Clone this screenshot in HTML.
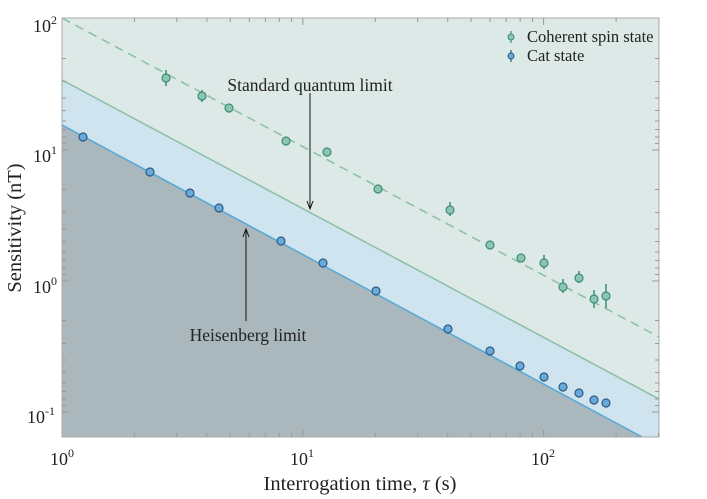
<!DOCTYPE html><html><head><style>body{margin:0;background:#fff}svg{display:block}text{font-family:"Liberation Serif",serif;fill:#222}</style></head><body>
<svg width="707" height="499" xmlns="http://www.w3.org/2000/svg">
<defs><clipPath id="c"><rect x="62" y="18" width="597" height="419"/></clipPath></defs>
<g clip-path="url(#c)">
<rect x="62" y="18" width="597" height="419" fill="#dde9e6"/>
<polygon points="62,80 659,399 659,437 62,437" fill="#cfe4ef"/>
<polygon points="62,125 642,437 62,437" fill="#aab7bd"/>
<line x1="62" y1="80" x2="659" y2="399" stroke="#8fc0a9" stroke-width="1.6"/>
<line x1="62" y1="125" x2="642" y2="437" stroke="#5aaad6" stroke-width="1.6"/>
<line x1="62" y1="18" x2="659" y2="337" stroke="#8fc0a9" stroke-width="1.6" stroke-dasharray="9,6"/>
</g>
<rect x="62" y="18" width="597" height="419" fill="none" stroke="#aaa" stroke-width="1"/>
<g stroke="#999" stroke-width="1">
<path d="M134.5,437v-4M176.8,437v-4M206.9,437v-4M230.2,437v-4M249.3,437v-4M265.4,437v-4M279.3,437v-4M291.6,437v-4M375.3,437v-4M417.7,437v-4M447.7,437v-4M471,437v-4M490.1,437v-4M506.2,437v-4M520.2,437v-4M532.5,437v-4M134.5,18v4M176.8,18v4M206.9,18v4M230.2,18v4M249.3,18v4M265.4,18v4M279.3,18v4M291.6,18v4M375.3,18v4M417.7,18v4M447.7,18v4M471,18v4M490.1,18v4M506.2,18v4M520.2,18v4M532.5,18v4M616.1,437v-4M658.5,437v-4M616.1,18v4"/>
<path d="M302.8,437v-7M543.6,437v-7M302.8,18v7M543.6,18v7M62,150h7M62,281h7M62,412h7M659,150h-7M659,281h-7M659,412h-7"/>
<path d="M62,58.5h4M62,81.5h4M62,98h4M62,110.5h4M62,121h4M62,129.5h4M62,137h4M62,143.5h4M62,189.5h4M62,212.5h4M62,229h4M62,241.5h4M62,252h4M62,260.5h4M62,268h4M62,274.5h4M62,320.5h4M62,343.5h4M62,360h4M62,372.5h4M62,383h4M62,391.5h4M62,399h4M62,405.5h4M659,58.5h-4M659,81.5h-4M659,98h-4M659,110.5h-4M659,121h-4M659,129.5h-4M659,137h-4M659,143.5h-4M659,189.5h-4M659,212.5h-4M659,229h-4M659,241.5h-4M659,252h-4M659,260.5h-4M659,268h-4M659,274.5h-4M659,320.5h-4M659,343.5h-4M659,360h-4M659,372.5h-4M659,383h-4M659,391.5h-4M659,399h-4M659,405.5h-4"/>
</g>
<g stroke="#3d8c78" stroke-width="1.5">
<path d="M166,70v16M202,90v12M229,104v8M286,137v8M327,148v8M378,185v8M450,202v14M490,241v8M521,254v8M544,255v14M563,279v14M579,271v12M594,290v18M606,284v24"/>
</g>
<g fill="#8cc5b1" stroke="#3d8c78" stroke-width="1.2">
<circle cx="166" cy="78" r="4"/><circle cx="202" cy="96" r="4"/><circle cx="229" cy="108" r="4"/><circle cx="286" cy="141" r="4"/><circle cx="327" cy="152" r="4"/><circle cx="378" cy="189" r="4"/><circle cx="450" cy="210" r="4"/><circle cx="490" cy="245" r="4"/><circle cx="521" cy="258" r="4"/><circle cx="544" cy="263" r="4"/><circle cx="563" cy="287" r="4"/><circle cx="579" cy="278" r="4"/><circle cx="594" cy="299" r="4"/><circle cx="606" cy="296" r="4"/>
</g>
<g fill="#6aaad8" stroke="#2c5a86" stroke-width="1.2">
<circle cx="83" cy="137" r="4"/><circle cx="150" cy="172" r="4"/><circle cx="190" cy="193" r="4"/><circle cx="219" cy="208" r="4"/><circle cx="281" cy="241" r="4"/><circle cx="323" cy="263" r="4"/><circle cx="376" cy="291" r="4"/><circle cx="448" cy="329" r="4"/><circle cx="490" cy="351" r="4"/><circle cx="520" cy="366" r="4"/><circle cx="544" cy="377" r="4"/><circle cx="563" cy="387" r="4"/><circle cx="579" cy="393" r="4"/><circle cx="594" cy="400" r="4"/><circle cx="606" cy="403" r="4"/>
</g>
<g stroke="#111" stroke-width="1" fill="none">
<path d="M310,93V209M307,201L310,209L313,201"/>
<path d="M246,321V229M243,237L246,229L249,237"/>
</g>
<text x="310" y="91" font-size="17.5" text-anchor="middle">Standard quantum limit</text>
<text x="248" y="341" font-size="17.5" text-anchor="middle">Heisenberg limit</text>
<line x1="511" y1="31" x2="511" y2="43" stroke="#3d8c78" stroke-width="1.2"/>
<circle cx="511" cy="37" r="3" fill="#8cc5b1" stroke="#3d8c78" stroke-width="1"/>
<line x1="511" y1="50" x2="511" y2="62" stroke="#2c5a86" stroke-width="1.2"/>
<circle cx="511" cy="56" r="3" fill="#6aaad8" stroke="#2c5a86" stroke-width="1"/>
<text x="527" y="42" font-size="16.5">Coherent spin state</text>
<text x="527" y="61" font-size="16.5">Cat state</text>
<g font-size="18">
<text x="33" y="32">10<tspan font-size="12" dy="-8">2</tspan></text>
<text x="33" y="162">10<tspan font-size="12" dy="-8">1</tspan></text>
<text x="33" y="293">10<tspan font-size="12" dy="-8">0</tspan></text>
<text x="27" y="423">10<tspan font-size="12" dy="-8">-1</tspan></text>
<text x="50" y="465">10<tspan font-size="12" dy="-8">0</tspan></text>
<text x="290" y="465">10<tspan font-size="12" dy="-8">1</tspan></text>
<text x="531" y="465">10<tspan font-size="12" dy="-8">2</tspan></text>
</g>
<text x="360" y="490" font-size="20.5" text-anchor="middle">Interrogation time, <tspan font-style="italic">τ</tspan> (s)</text>
<text transform="translate(21,228) rotate(-90)" font-size="20.5" text-anchor="middle">Sensitivity (nT)</text>
</svg>
</body></html>
